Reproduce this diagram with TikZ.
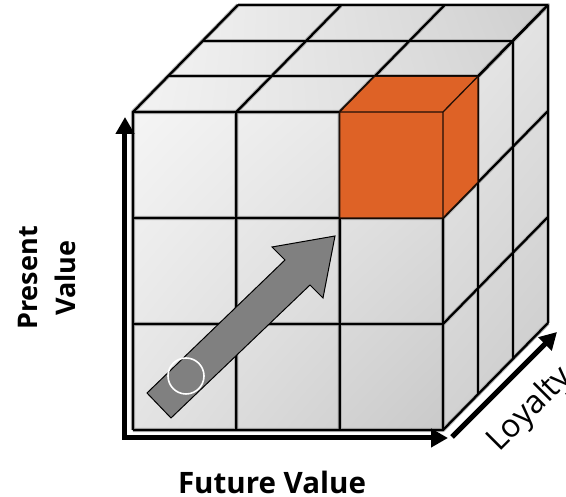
\documentclass[tikz,border=0pt]{standalone}
\usepackage{fontspec}
\setmainfont{Open Sans}
\usetikzlibrary{arrows.meta,calc,shadings}
\tikzset{>={Triangle[length=17pt,width=18pt]}}
\definecolor{cubeorange}{RGB}{222,98,38}
\tikzset{
  face/.style={upper left=black!4,upper right=black!11,lower left=black!11,lower right=black!21},
  halo/.style={line width=4.2pt,black!30,line join=round},
  grid/.style={line width=2.3pt,black,line join=round},
  axis/.style={line width=5pt,line join=miter},
  label/.style={font=\fontsize{27}{38}\selectfont\bfseries,align=center,inner sep=0pt}
}

\begin{document}
\begin{tikzpicture}[x=1pt,y=1pt]
    \useasboundingbox (-133,-67) rectangle (433,430);
    \def\w{103.33}
    \def\h{106}
    \def\dx{35}
    \def\dy{35.67}

    % front, top and right faces
    \shade[face] (0,0) rectangle (3*\w,3*\h);
    \shade[face,lower left=black!5,lower right=black!17,upper right=black!19]
      (0,3*\h) -- ++(3*\w,0) -- ++(3*\dx,3*\dy) -- ++(-3*\w,0) -- cycle;
    \shade[face,upper left=black!8,lower left=black!18]
      (3*\w,0) -- ++(3*\dx,3*\dy) -- ++(0,3*\h) -- ++(-3*\dx,-3*\dy) -- cycle;

    % grid lines
    \foreach \s in {halo,grid}
      \foreach \i in {0,...,3} {
        \draw[\s] (\i*\w,0) -- (\i*\w,3*\h) -- ++(3*\dx,3*\dy);
        \draw[\s] (0,\i*\h) -- (3*\w,\i*\h) -- ++(3*\dx,3*\dy);
        \draw[\s] (\i*\dx,3*\h+\i*\dy) -- ++(3*\w,0) -- ++(0,-3*\h);
      }

    % the orange cube
    \filldraw[fill=cubeorange,draw=black!85!cubeorange,line width=1.3pt,line join=round]
      (2*\w,2*\h) -- (3*\w,2*\h) -- ++(\dx,\dy) -- ++(0,\h) -- ++(-\w,0) -- ++(-\dx,-\dy) -- cycle;
    \draw[black!85!cubeorange,line width=1.3pt,line join=round]
      (2*\w,3*\h) -- (3*\w,3*\h) -- (3*\w,2*\h) (3*\w,3*\h) -- ++(\dx,\dy);

    % gray arrow
    \filldraw[fill=black!50,draw=black,line width=1pt,line join=miter]
      (14,37) -- (152,170) -- (139,183) -- (202,194) -- (190,132) -- (177,145) -- (38,12) -- cycle;
    \draw[white,line width=1.6pt] (53,54) circle (18);

    % axes
    \coordinate (O) at (-8,-8);
    \coordinate (PV) at (-8,313);
    \coordinate (FV) at (315,-8);
    \coordinate (L0) at (319,-7);
    \coordinate (L1) at (424,98);
    \draw[axis,<->] (PV) -- (O) -- (FV);
    \draw[axis,->] (L0) -- (L1);

    \node[label,rotate=90] (present) at (-86,152) {Present\\Value};
    \node[label,font=\fontsize{29.5}{34}\selectfont\bfseries] (future) at (139,-52) {Future Value};
    \node[font=\fontsize{32}{36}\selectfont,rotate=45,anchor=base west,inner sep=0pt] (loyalty) at (366,-23) {Loyalty};
\end{tikzpicture}
\end{document}
